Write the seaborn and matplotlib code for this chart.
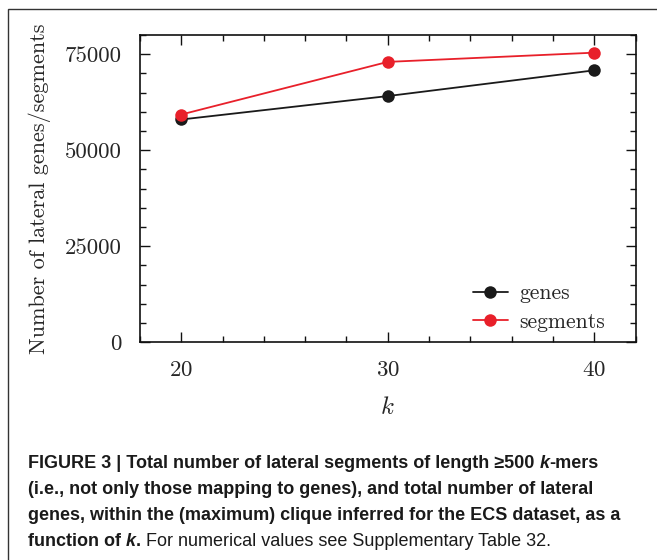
import pandas as pd
import numpy as np
import matplotlib.pyplot as plt
import seaborn as sns
from matplotlib.patches import Rectangle
from matplotlib.ticker import MultipleLocator

k_values = [20, 30, 40]
genes = [58000, 64100, 70800]
segments = [59300, 73000, 75400]
x_ticks = [20, 30, 40]
y_ticks = [0, 25000, 50000, 75000]

sns.set_style("ticks")
plt.rcParams.update({
    "font.family": "serif",
    "font.serif": ["cmr10"],
    "mathtext.fontset": "cm",
    "axes.formatter.use_mathtext": True,
    "axes.unicode_minus": False,
})

df = pd.DataFrame({"k": k_values, "genes": genes, "segments": segments})

fig = plt.figure(figsize=(6.57, 5.60), dpi=100)
ax = fig.add_axes([0.2131, 0.3888, 0.9673 - 0.2131, 0.9375 - 0.3888])

sns.lineplot(data=df, x="k", y="genes", ax=ax, color="#1a1a1a", marker="o",
             markersize=9, markeredgewidth=0, linewidth=1.3, label="genes")
sns.lineplot(data=df, x="k", y="segments", ax=ax, color="#e8202a", marker="o",
             markersize=9, markeredgewidth=0, linewidth=1.3, label="segments")

ax.set_xlim(18, 42)
ax.set_ylim(0, 80000)
ax.set_xticks(x_ticks)
ax.set_yticks(y_ticks)
ax.set_yticklabels([str(v) for v in y_ticks])
ax.xaxis.set_minor_locator(MultipleLocator(2))
ax.yaxis.set_minor_locator(MultipleLocator(5000))
ax.tick_params(which="both", direction="in", top=True, right=True,
               width=1.0, color="#111111")
ax.tick_params(which="major", length=7, labelsize=16.5, pad=13)
ax.tick_params(which="minor", length=4)
for sp in ax.spines.values():
    sp.set_linewidth(1.2)
    sp.set_color("#111111")

ax.set_xlabel("$k$", fontsize=18, labelpad=12)
ax.set_ylabel("Number of lateral genes/segments", fontsize=16, labelpad=10)

leg = ax.legend(loc="lower right", frameon=False, fontsize=15.5,
                handlelength=1.6, handletextpad=0.55, labelspacing=0.4,
                bbox_to_anchor=(0.978, -0.028))

# outer frame of the figure panel
fig.patches.append(Rectangle((8 / 657, -0.1), 1.2, 1 - 9 / 560 + 0.1,
                             transform=fig.transFigure, fill=False,
                             edgecolor="#333333", linewidth=1.0))

# caption, drawn piece by piece to mix bold / italic / regular
cap_font = ["Liberation Sans Narrow", "Liberation Sans", "DejaVu Sans"]
cap_lines = [
    [("FIGURE 3 | Total number of lateral segments of length \u2265500 ", "bold", "normal"),
     ("k", "bold", "italic"), ("-mers", "bold", "normal")],
    [("(i.e., not only those mapping to genes), and total number of lateral", "bold", "normal")],
    [("genes, within the (maximum) clique inferred for the ECS dataset, as a", "bold", "normal")],
    [("function of ", "bold", "normal"), ("k", "bold", "italic"), (".", "bold", "normal"),
     (" For numerical values see Supplementary Table 32.", "normal", "normal")],
]
line_y = [464, 490, 515, 541]

fig.canvas.draw()
renderer = fig.canvas.get_renderer()
for pieces, y in zip(cap_lines, line_y):
    x = 28
    for txt, weight, style in pieces:
        t = fig.text(x / 657, 1 - y / 560, txt, family=cap_font, fontsize=13,
                     fontweight=weight, fontstyle=style, va="center", ha="left",
                     color="#1a1a1a")
        x += t.get_window_extent(renderer).width

fig.savefig("out.png", dpi=100, facecolor="white")
